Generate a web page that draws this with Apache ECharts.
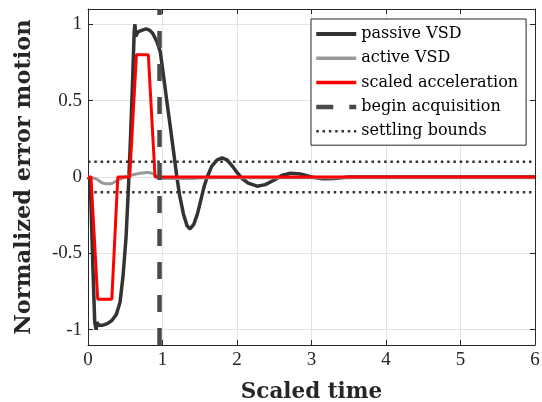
<!DOCTYPE html>
<html>
<head>
<meta charset="utf-8">
<script src="https://cdn.jsdelivr.net/npm/echarts@6/dist/echarts.min.js"></script>
<style>
  html, body { margin: 0; padding: 0; background: #fff; }
  #chart { width: 542px; height: 402px; }
</style>
</head>
<body>
<div id="chart"></div>
<script>
// passive VSD
const passiveT = [0, 0.03, 0.06, 0.09, 0.11, 0.12, 0.14, 0.2, 0.26, 0.32, 0.38, 0.43, 0.47, 0.51, 0.54, 0.57, 0.6, 0.62, 0.63, 0.64, 0.67, 0.72, 0.78, 0.83, 0.87, 0.9, 0.93, 0.97, 1.02, 1.06, 1.11, 1.15, 1.19, 1.23, 1.28, 1.33, 1.37, 1.42, 1.47, 1.52, 1.56, 1.6, 1.66, 1.73, 1.8, 1.87, 1.94, 2.0, 2.07, 2.15, 2.27, 2.38, 2.5, 2.6, 2.72, 2.85, 3.0, 3.15, 3.3, 3.5, 4, 6]
const passiveV = [0, -0.02, -0.5, -0.95, -1.0, -0.95, -0.97, -0.97, -0.96, -0.94, -0.9, -0.82, -0.65, -0.4, -0.1, 0.25, 0.65, 0.95, 1.0, 0.92, 0.95, 0.96, 0.97, 0.96, 0.94, 0.91, 0.88, 0.82, 0.64, 0.49, 0.31, 0.16, 0.01, -0.12, -0.24, -0.32, -0.34, -0.31, -0.24, -0.14, -0.06, 0.0, 0.07, 0.11, 0.125, 0.11, 0.07, 0.03, -0.01, -0.04, -0.06, -0.05, -0.02, 0.01, 0.025, 0.02, 0.0, -0.012, -0.01, 0, 0, 0]
// active VSD
const activeT = [0, 0.1, 0.2, 0.3, 0.4, 0.5, 0.6, 0.7, 0.8, 0.88, 0.95, 1.05, 1.3, 1.6, 2, 6]
const activeV = [0, -0.01, -0.04, -0.045, -0.02, 0, 0.015, 0.025, 0.03, 0.02, -0.005, -0.01, -0.01, -0.005, -0.005, -0.005]
// scaled acceleration
const accelT = [0, 0.04, 0.13, 0.32, 0.4, 0.56, 0.65, 0.81, 0.9, 6]
const accelV = [0, 0, -0.8, -0.8, 0, 0, 0.8, 0.8, 0, 0]
// begin acquisition / settling bounds
const acqTime = 0.96
const acqSpan = [-1.1, 1.1]
const boundT = [0, 6]
const bound = 0.1
const yTicks = [-1, -0.5, 0, 0.5, 1]

const zip = (a, b) => a.map((t, i) => [t, b[i]])
const font = 'DejaVu Serif'
const tickFont = 'Liberation Serif'
const ink = '#262626'

const chart = echarts.init(document.getElementById('chart'))

// top and right edges of the box
const boxAxis = {
  axisLine: { show: true, onZero: false, lineStyle: { color: ink, width: 1 } },
  axisTick: { show: true, inside: true, length: 5, lineStyle: { color: ink } },
  axisLabel: { show: false },
  splitLine: { show: false }
}

chart.setOption({
  animation: false,
  grid: { left: 88, right: 7, top: 9, bottom: 57, outerBoundsMode: 'none' },
  legend: {
    orient: 'vertical',
    left: 311,
    top: 19,
    padding: [7, 8, 6, 3],
    itemGap: 8.3,
    itemWidth: 40,
    itemHeight: 16,
    itemStyle: { opacity: 0 },
    backgroundColor: '#fff',
    borderColor: ink,
    borderWidth: 1,
    borderRadius: 0,
    textStyle: { fontFamily: font, fontSize: 16, lineHeight: 16, color: '#000' },
    data: [
      { name: 'passive VSD', lineStyle: { width: 4 } },
      { name: 'active VSD', lineStyle: { width: 3.5 } },
      { name: 'scaled acceleration', lineStyle: { width: 3.5 } },
      { name: 'begin acquisition', lineStyle: { width: 4.5 } },
      { name: 'settling bounds', lineStyle: { width: 2.5 } }
    ]
  },
  xAxis: [
    {
      type: 'value', min: 0, max: 6, interval: 1,
      name: 'Scaled time', nameLocation: 'middle', nameGap: 36,
      nameTextStyle: { fontFamily: font, fontSize: 21.5, fontWeight: 'bold', color: ink },
      axisLine: { onZero: false, lineStyle: { color: ink } },
      axisTick: { inside: true, length: 5, lineStyle: { color: ink } },
      axisLabel: { fontFamily: tickFont, fontSize: 19, color: ink, margin: 6 },
      splitLine: { show: true, lineStyle: { color: '#e3e3e3', width: 1 } }
    },
    Object.assign({ type: 'value', position: 'top', min: 0, max: 6, interval: 1 }, boxAxis)
  ],
  yAxis: [
    {
      type: 'value', min: -1.1, max: 1.1,
      name: 'Normalized error motion', nameLocation: 'middle', nameGap: 52,
      nameTextStyle: { fontFamily: font, fontSize: 22.5, fontWeight: 'bold', color: ink },
      axisLine: { show: true, onZero: false, lineStyle: { color: ink } },
      axisTick: { show: true, inside: true, length: 5, customValues: yTicks, lineStyle: { color: ink } },
      axisLabel: { fontFamily: tickFont, fontSize: 19, color: ink, margin: 6, customValues: yTicks },
      splitLine: { show: true, lineStyle: { color: '#e3e3e3', width: 1 } }
    },
    Object.assign({ type: 'value', position: 'right', min: -1.1, max: 1.1 }, boxAxis,
      { axisTick: { show: true, inside: true, length: 5, customValues: yTicks, lineStyle: { color: ink } } })
  ],
  series: [
    {
      name: 'passive VSD', type: 'line', data: zip(passiveT, passiveV),
      showSymbol: false, symbol: 'none', color: '#333333',
      lineStyle: { width: 3.5, color: '#333333' }
    },
    {
      name: 'active VSD', type: 'line', data: zip(activeT, activeV),
      showSymbol: false, symbol: 'none', color: '#999999', smooth: 0.3,
      lineStyle: { width: 3, color: '#999999' }
    },
    {
      name: 'scaled acceleration', type: 'line', data: zip(accelT, accelV),
      showSymbol: false, symbol: 'none', color: '#ff0000',
      lineStyle: { width: 3, color: '#ff0000' }
    },
    {
      name: 'begin acquisition', type: 'line', data: acqSpan.map(v => [acqTime, v]),
      showSymbol: false, symbol: 'none', color: '#4a4a4a',
      lineStyle: { width: 4.5, color: '#4a4a4a', type: [17, 16] }
    },
    {
      name: 'settling bounds', type: 'line', data: boundT.map(t => [t, bound]),
      showSymbol: false, symbol: 'none', color: '#333333',
      lineStyle: { width: 2.5, color: '#333333', type: [2.5, 3.8] }
    },
    {
      name: 'settling bounds', type: 'line', data: boundT.map(t => [t, -bound]),
      showSymbol: false, symbol: 'none', color: '#333333',
      lineStyle: { width: 2.5, color: '#333333', type: [2.5, 3.8] }
    }
  ]
})
</script>
</body>
</html>
